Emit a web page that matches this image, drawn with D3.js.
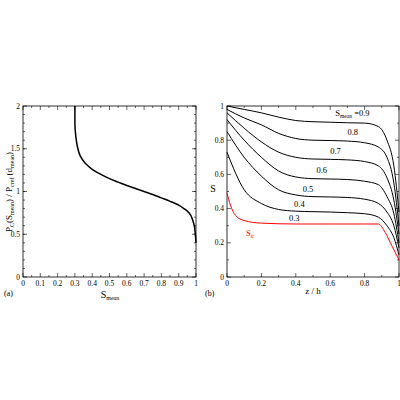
<!DOCTYPE html>
<html><head><meta charset="utf-8">
<script src="https://cdn.jsdelivr.net/npm/d3@7"></script>
<style>body{margin:0;background:#fff}svg{font-family:"Liberation Serif","DejaVu Serif",serif}</style>
</head><body><svg id="c" width="400" height="400"></svg>
<script>
// panel (a): Pc(Smean)/Pcref(dmean) vs Smean
const pcCurve = [[0.3,2],[0.3,1.8],[0.305,1.65],[0.315,1.52],[0.33,1.42],[0.36,1.33],[0.4,1.26],[0.45,1.2],[0.5,1.15],[0.55,1.11],[0.6,1.07],[0.65,1.035],[0.7,1.0],[0.75,0.965],[0.8,0.925],[0.85,0.885],[0.9,0.84],[0.93,0.8],[0.95,0.77],[0.97,0.72],[0.98,0.67],[0.99,0.6],[0.995,0.52],[1,0.4]];

// panel (b): S vs z/h for each Smean
const zh = [0,0.1,0.2,0.3,0.4,0.5,0.6,0.7,0.8,0.88,0.93,0.97,1];
const s09 = [1,0.98,0.96,0.935,0.915,0.908,0.905,0.902,0.9,0.88,0.8,0.65,0.38];
const s08 = [0.98,0.93,0.89,0.84,0.81,0.8,0.798,0.795,0.785,0.76,0.7,0.55,0.3];
const s07 = [0.96,0.87,0.79,0.73,0.7,0.69,0.688,0.685,0.675,0.65,0.58,0.45,0.25];
const s06 = [0.92,0.8,0.7,0.62,0.585,0.575,0.573,0.57,0.56,0.54,0.47,0.37,0.2];
const s05 = [0.85,0.7,0.59,0.51,0.48,0.47,0.468,0.465,0.455,0.43,0.38,0.3,0.17];
const s04 = [0.73,0.51,0.43,0.395,0.385,0.382,0.38,0.376,0.37,0.35,0.3,0.23,0.13];
const sirZ = [0,0.02,0.05,0.1,0.2,0.4,0.6,0.8,0.88,0.92,0.96,1];
const sir = [0.49,0.42,0.36,0.33,0.315,0.31,0.31,0.31,0.31,0.26,0.18,0.1];
const blackSeries = [s09,s08,s07,s06,s05,s04];
const curveLabels = ["0.8","0.7","0.6","0.5","0.4","0.3"];
const labelPos = [[0.7,0.83],[0.6,0.72],[0.52,0.61],[0.44,0.5],[0.39,0.41],[0.36,0.33]];

const svg = d3.select("#c");
const top_ = 106, bot = 277;

function frame(x0, x1, xs, ys, xMajor, xMinor, yMajor, yMinor, xfmt, yfmt) {
  const g = svg.append("g");
  g.append("rect").attr("x", x0).attr("y", top_).attr("width", x1 - x0).attr("height", bot - top_)
    .attr("fill", "none").attr("stroke", "#000").attr("stroke-width", 0.8);
  const tick = (vals, len) => {
    vals.forEach(v => {
      const x = xs(v);
      g.append("line").attr("x1", x).attr("x2", x).attr("y1", bot).attr("y2", bot - len).attr("stroke", "#000").attr("stroke-width", 0.6);
      g.append("line").attr("x1", x).attr("x2", x).attr("y1", top_).attr("y2", top_ + len).attr("stroke", "#000").attr("stroke-width", 0.6);
    });
  };
  const ticky = (vals, len) => {
    vals.forEach(v => {
      const y = ys(v);
      g.append("line").attr("x1", x0).attr("x2", x0 + len).attr("y1", y).attr("y2", y).attr("stroke", "#000").attr("stroke-width", 0.6);
      g.append("line").attr("x1", x1).attr("x2", x1 - len).attr("y1", y).attr("y2", y).attr("stroke", "#000").attr("stroke-width", 0.6);
    });
  };
  tick(xMinor, 2); tick(xMajor, 4); ticky(yMinor, 2); ticky(yMajor, 4);
  xMajor.forEach(v => g.append("text").attr("x", xs(v)).attr("y", bot + 9).attr("text-anchor", "middle").attr("font-size", 7.5).text(xfmt(v)));
  yMajor.forEach(v => g.append("text").attr("x", x0 - 3).attr("y", ys(v) + 2.5).attr("text-anchor", "end").attr("font-size", 7.5).text(yfmt(v)));
}

// panel a
const xa = d3.scaleLinear().domain([0, 1]).range([23, 196]);
const ya = d3.scaleLinear().domain([0, 2]).range([bot, top_]);
frame(23, 196, xa, ya, d3.range(0, 1.001, 0.1), d3.range(0.05, 1, 0.1), [0, 0.5, 1, 1.5, 2], d3.range(0.1, 2, 0.1),
  v => v === 0 || Math.abs(v - 1) < 1e-6 ? d3.format("d")(Math.round(v)) : d3.format(".1f")(v),
  v => d3.format("")(v));
svg.append("path").datum(pcCurve).attr("fill", "none").attr("stroke", "#000").attr("stroke-width", 1.5)
  .attr("d", d3.line().x(d => xa(d[0])).y(d => ya(d[1])).curve(d3.curveMonotoneY));

const xl = svg.append("text").attr("x", 110).attr("y", 298).attr("text-anchor", "middle").attr("font-size", 10);
xl.append("tspan").text("S");
xl.append("tspan").attr("font-size", 6).attr("dy", 2).text("mean");
const yl = svg.append("text").attr("transform", "translate(12,192) rotate(-90)").attr("text-anchor", "middle").attr("font-size", 9);
yl.append("tspan").text("P");
yl.append("tspan").attr("font-size", 6).attr("dy", 2).text("C");
yl.append("tspan").attr("dy", -2).text("(S");
yl.append("tspan").attr("font-size", 6).attr("dy", 2).text("mean");
yl.append("tspan").attr("dy", -2).text(") / P");
yl.append("tspan").attr("font-size", 6).attr("dy", 2).text("cref");
yl.append("tspan").attr("dy", -2).text(" (d");
yl.append("tspan").attr("font-size", 6).attr("dy", 2).text("mean");
yl.append("tspan").attr("dy", -2).text(")");
svg.append("text").attr("x", 4).attr("y", 296).attr("font-size", 8).text("(a)");

// panel b
const xb = d3.scaleLinear().domain([0, 1]).range([227, 399]);
const yb = d3.scaleLinear().domain([0, 1]).range([bot, top_]);
frame(227, 399, xb, yb, [0, 0.2, 0.4, 0.6, 0.8, 1], d3.range(0.1, 1, 0.2), [0, 0.2, 0.4, 0.6, 0.8, 1], d3.range(0.1, 1, 0.2),
  v => v === 0 || v === 1 ? String(v) : d3.format(".1f")(v),
  v => v === 0 || v === 1 ? String(v) : d3.format(".1f")(v));
const lineB = d3.line().x(d => xb(d[0])).y(d => yb(d[1])).curve(d3.curveMonotoneX);
blackSeries.forEach(s => svg.append("path").datum(zh.map((z, i) => [z, s[i]]))
  .attr("fill", "none").attr("stroke", "#000").attr("stroke-width", 1).attr("d", lineB));
svg.append("path").datum(sirZ.map((z, i) => [z, sir[i]]))
  .attr("fill", "none").attr("stroke", "red").attr("stroke-width", 1).attr("d", lineB);
curveLabels.forEach((t, i) => svg.append("text").attr("x", xb(labelPos[i][0])).attr("y", yb(labelPos[i][1]))
  .attr("font-size", 8.5).text(t));
const l9 = svg.append("text").attr("x", xb(0.63)).attr("y", yb(0.94)).attr("font-size", 8.5);
l9.append("tspan").text("S");
l9.append("tspan").attr("font-size", 5.5).attr("dy", 2).text("mean");
l9.append("tspan").attr("dy", -2).text(" =0.9");
const lir = svg.append("text").attr("x", xb(0.11)).attr("y", yb(0.24)).attr("font-size", 8.5).attr("fill", "red");
lir.append("tspan").text("S");
lir.append("tspan").attr("font-size", 5.5).attr("dy", 2).text("ir");
svg.append("text").attr("x", 313).attr("y", 294).attr("text-anchor", "middle").attr("font-size", 9).text("z / h");
svg.append("text").attr("x", 213).attr("y", 192).attr("text-anchor", "middle").attr("font-size", 10).text("S");
svg.append("text").attr("x", 205).attr("y", 296).attr("font-size", 8).text("(b)");
</script></body></html>
